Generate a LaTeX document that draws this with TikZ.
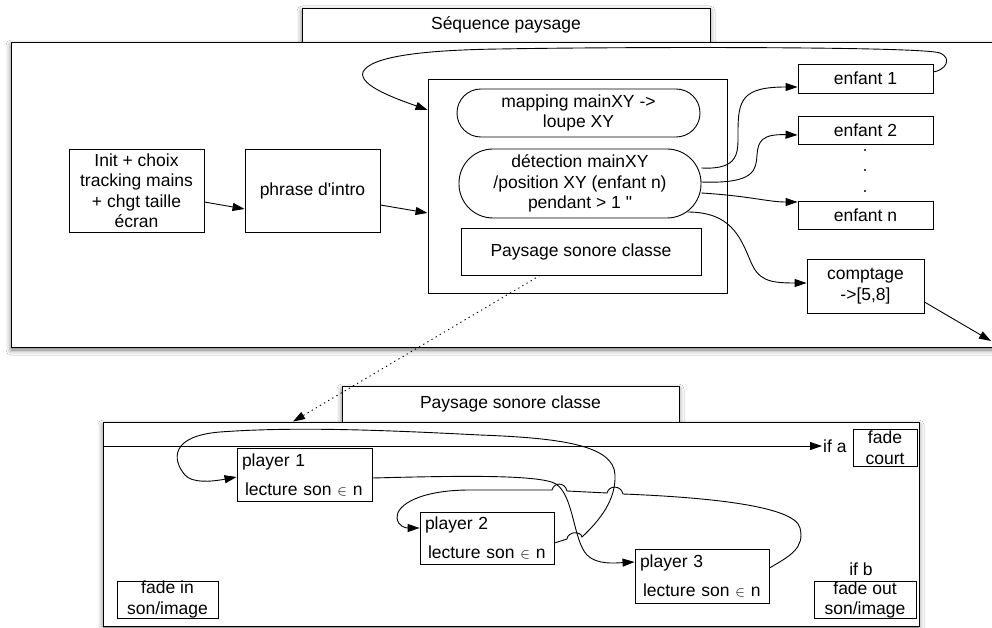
\documentclass[tikz,border=0pt]{standalone}
\usepackage{fontspec}
\setmainfont{Liberation Sans}[Ligatures=TeXOff]
\usetikzlibrary{arrows.meta,shadows.blur}
\newcommand{\elemsign}{{\fontsize{14}{14}\selectfont$\in$}}
\begin{document}
\begin{tikzpicture}[x=1pt,y=-1pt,
  every node/.style={font=\fontsize{17.5}{20.5}\selectfont},
  box/.style={draw, fill=white, line width=0.9pt, inner sep=0pt, align=center},
  panelshadow/.style={blur shadow={shadow xshift=0pt, shadow yshift=-3pt, shadow blur radius=5pt, shadow opacity=55}},
  player/.style={box, minimum width=135pt, minimum height=53pt, align=left, text width=125pt, inner xsep=5pt},
  conn/.style={line width=0.9pt},
  arr/.style={conn, -{Triangle[length=12pt,width=8pt]}},
  dotarrow/.style={arr, dash pattern=on 1.3pt off 3.5pt}
]
\fill[white] (0,0) rectangle (992,628);
\useasboundingbox (0,0) rectangle (992,628);

% ---------- upper panel ----------
\node[box, panelshadow, minimum width=408pt, minimum height=34pt] (tabA) at (506,25) {Séquence paysage};
\node[box, panelshadow, minimum width=994pt, minimum height=305pt] (pA) at (508,194.5) {};

\node[box, minimum width=135pt, minimum height=83pt] (init) at (136.5,190.5) {Init + choix\\tracking mains\\+ chgt taille\\écran};
\node[box, minimum width=135pt, minimum height=83pt] (intro) at (312.5,190.5) {phrase d'intro};
\node[box, minimum width=299pt, minimum height=214pt] (cont) at (577.5,186) {};
\node[box, rounded corners=23.9pt, minimum width=243pt, minimum height=48pt] (map) at (578.5,113) {mapping mainXY ->\\loupe XY};
\node[box, rounded corners=34pt, minimum width=242pt, minimum height=69pt] (det) at (580,183.5) {détection mainXY\\/position XY (enfant n)\\pendant > 1 "};
\node[box, minimum width=240pt, minimum height=47pt] (psc) at (581,251.5) {Paysage sonore classe};

\node[box, minimum width=135pt, minimum height=29pt] (e1) at (865.5,78.5) {enfant 1};
\node[box, minimum width=135pt, minimum height=28pt] (e2) at (865.5,130) {enfant 2};
\node[box, minimum width=135pt, minimum height=28pt] (en) at (865.5,215) {enfant n};
\node[box, minimum width=117pt, minimum height=54pt] (cpt) at (865.5,286) {comptage\\->[5,8]};
\fill (865,150) circle[radius=1.1pt] (865,170) circle[radius=1.1pt] (865,191) circle[radius=1.1pt];
\coordinate (exitpt) at (991,341);

\draw[arr] ([yshift=-11.5pt]init.east) -- ([yshift=-18.5pt]intro.west);
\draw[arr] ([yshift=-14.5pt]intro.east) -- ([yshift=-27pt]cont.west);
\draw[arr] ([yshift=6.5pt]e1.east) .. controls (945,70) and (953,59) .. (940,53)
  .. controls (920,46) and (600,47) .. (500,49)
  .. controls (420,50) and (370,57) .. (363,72)
  .. controls (358,86) and (400,100) .. ([yshift=76pt]cont.west);
\draw[arr] ([yshift=15.5pt]det.east) .. controls (740,170) and (738,152) .. (738,132)
  .. controls (738,100) and (742,87) .. ([yshift=-8.5pt]e1.west);
\draw[arr] ([yshift=1.5pt]det.east) .. controls (755,184) and (756,170) .. (757,155)
  .. controls (758,141) and (762,134) .. ([yshift=-5pt]e2.west);
\draw[arr] ([yshift=-9.5pt]det.east) .. controls (750,196) and (768,202) .. ([yshift=13pt]en.west);
\draw[arr] ([xshift=-14pt,yshift=-28.5pt]det.east) .. controls (730,212) and (740,236) .. (750,260)
  .. controls (758,280) and (768,283) .. ([yshift=3pt]cpt.west);
\draw[arr] ([yshift=-16pt]cpt.east) -- (exitpt);

% ---------- lower panel ----------
\node[box, panelshadow, minimum width=337pt, minimum height=36pt] (tabB) at (510.5,404) {Paysage sonore classe};
\node[box, panelshadow, minimum width=816pt, minimum height=204.5pt] (pB) at (511,524.25) {};

\node[player] (p1) at (304.5,474.5) {player 1\\[8.5pt]\hspace*{3pt}lecture son \elemsign{} n};
\node[player, minimum width=134pt, minimum height=52pt, text width=124pt] (p2) at (487,538) {player 2\\[8.5pt]\hspace*{3pt}lecture son \elemsign{} n};
\node[player, minimum width=134pt, minimum height=54pt, text width=124pt] (p3) at (702,576) {player 3\\[8.5pt]\hspace*{3pt}lecture son \elemsign{} n};

\node[box, minimum width=101pt, minimum height=37pt] (fin) at (167.5,599.5) {fade in\\son/image};
\node[box, minimum width=64pt, minimum height=37pt] (fc) at (885,447.5) {fade\\court};
\node[box, minimum width=102pt, minimum height=37pt] (fout) at (865,600) {fade out\\son/image};
\node[anchor=west, inner sep=1pt] (ifa) at (822,446) {if a};
\node[inner sep=0pt] (ifb) at (861,569) {if b};

\draw[arr] (pB.west |- ifa.west) -- (ifa.west);

% player 2 -> player 1 (loop over the top)
\draw[arr] ([yshift=-5pt]p2.east) -- (567,539) .. controls (568,531) and (581,531) .. (582,537)
  .. controls (600,520) and (616,500) .. (615,475)
  .. controls (614,445) and (560,438) .. (480,435)
  .. controls (400,431) and (300,426) .. (220,432)
  .. controls (170,436) and (172,460) .. (185,475)
  .. controls (192,483) and (210,482) .. ([yshift=-2.5pt]p1.west);
% player 1 -> player 3
\draw[arr] ([yshift=-3.5pt]p1.east) .. controls (450,476) and (540,474) .. (556,484)
  .. controls (574,496) and (573,540) .. (587,555)
  .. controls (597,565) and (615,563) .. ([yshift=14pt]p3.west);
% player 3 -> player 2
\draw[arr] ([yshift=8pt]p3.east) .. controls (790,556) and (805,548) .. (800,528)
  .. controls (795,505) and (700,497) .. (623,494)
  .. controls (621,485) and (609,485) .. (607,493) -- (567,491)
  .. controls (565,482) and (554,482) .. (552,490) -- (470,490)
  .. controls (420,490) and (396,505) .. (397,518)
  .. controls (398,526) and (405,528) .. ([yshift=10pt]p2.west);

% dotted link
\draw[dotarrow] ([xshift=-41pt]psc.south) -- ([xshift=-218pt]pB.north);
\end{tikzpicture}
\end{document}
